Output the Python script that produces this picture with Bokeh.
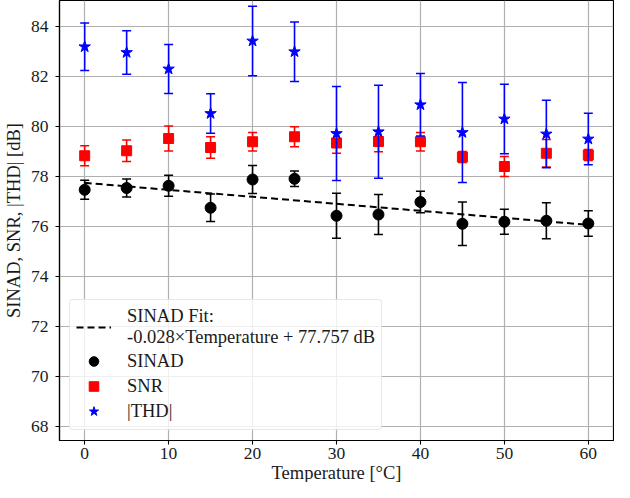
import numpy as np
from bokeh.plotting import figure
from bokeh.models import (ColumnDataSource, Legend, LegendItem, FixedTicker, Range1d, Title)
from bokeh.embed import file_html
from bokeh.resources import INLINE

# ---- data ----
temps = [0, 5, 10, 15, 20, 25, 30, 35, 40, 45, 50, 55, 60]
sinad = [77.48, 77.55, 77.64, 76.76, 77.89, 77.92, 76.44, 76.49, 76.99, 76.12, 76.20, 76.24, 76.13]
sinad_err = [0.38, 0.36, 0.42, 0.55, 0.56, 0.31, 0.90, 0.80, 0.43, 0.87, 0.50, 0.72, 0.51]
snr = [78.84, 79.04, 79.53, 79.17, 79.40, 79.60, 79.35, 79.41, 79.40, 78.79, 78.41, 78.94, 78.87]
snr_err = [0.40, 0.43, 0.50, 0.43, 0.37, 0.40, 0.41, 0.41, 0.37, 0.22, 0.40, 0.55, 0.22]
thd = [83.20, 82.97, 82.31, 80.53, 83.43, 83.00, 79.73, 79.80, 80.88, 79.77, 80.31, 79.71, 79.51]
thd_err = [0.95, 0.87, 0.98, 0.79, 1.39, 1.19, 1.88, 1.86, 1.25, 2.00, 1.39, 1.35, 1.03]
fit_slope = -0.028
fit_intercept = 77.757
x_ticks = [0, 10, 20, 30, 40, 50, 60]
y_ticks = [68, 70, 72, 74, 76, 78, 80, 82, 84]
x_label = "Temperature [°C]"
y_label = "SINAD, SNR, |THD| [dB]"

FONT = "Liberation Serif"
TICK_SIZE = "17.5px"
LABEL_SIZE = "18.5px"
TXT = "#1a1a1a"

p = figure(width=614, height=482, output_backend="svg", toolbar_location=None,
           x_range=Range1d(-3, 63), y_range=Range1d(67.45, 85.05),
           min_border_left=10, min_border_right=1, min_border_top=0, min_border_bottom=0)

p.outline_line_color = "black"
p.outline_line_width = 1.2
p.background_fill_color = "white"
p.border_fill_color = "white"

for ax in (p.xaxis, p.yaxis):
    ax.axis_line_color = "black"
    ax.axis_line_width = 1.2
    ax.major_tick_line_color = "black"
    ax.major_tick_line_width = 1.1
    ax.major_tick_out = 4
    ax.major_tick_in = 0
    ax.minor_tick_line_color = None
    ax.major_label_text_font = FONT
    ax.major_label_text_font_size = TICK_SIZE
    ax.major_label_text_color = TXT
    ax.axis_label_text_font = FONT
    ax.axis_label_text_font_size = LABEL_SIZE
    ax.axis_label_text_font_style = "normal"
    ax.axis_label_text_color = TXT

p.xaxis.ticker = FixedTicker(ticks=x_ticks)
p.yaxis.ticker = FixedTicker(ticks=y_ticks)
p.yaxis.axis_label = y_label
p.xaxis.major_label_standoff = 3
p.yaxis.major_label_standoff = 7
p.yaxis.axis_label_standoff = 4

xt = Title(text=x_label, align="center", text_font=FONT, text_font_size=LABEL_SIZE,
           text_font_style="normal", text_color=TXT, standoff=-1)
p.add_layout(xt, "below")

p.xgrid.ticker = FixedTicker(ticks=x_ticks)
p.ygrid.ticker = FixedTicker(ticks=y_ticks)
for g in (p.xgrid, p.ygrid):
    g.grid_line_color = "#b0b0b0"
    g.grid_line_width = 1.2

t = np.array(temps, dtype=float)

# fit line
fit_src = ColumnDataSource(dict(x=[min(temps), max(temps)],
                                y=[fit_slope * min(temps) + fit_intercept,
                                   fit_slope * max(temps) + fit_intercept]))
fit_r = p.line("x", "y", source=fit_src, line_color="black", line_width=2, line_dash="7 4")

def series(vals, errs, color, marker, size):
    v = np.array(vals)
    e = np.array(errs)
    src = ColumnDataSource(dict(x=t, y=v, lo=v - e, hi=v + e))
    p.segment(x0="x", y0="lo", x1="x", y1="hi", source=src, line_color=color, line_width=1.6)
    p.scatter(x="x", y="lo", source=src, marker="dash", size=9, line_color=color, line_width=1.6)
    p.scatter(x="x", y="hi", source=src, marker="dash", size=9, line_color=color, line_width=1.6)
    m = p.scatter(x="x", y="y", source=src, marker=marker, size=size,
                  fill_color=color, line_color=color)
    return [m]

r_sinad = series(sinad, sinad_err, "black", "circle", 11)
r_snr = series(snr, snr_err, "red", "square", 10)
r_thd = series(thd, thd_err, "blue", "star", 12)

legend = Legend(items=[
    LegendItem(label="SINAD Fit:\n-0.028×Temperature + 77.757 dB", renderers=[fit_r]),
    LegendItem(label="SINAD", renderers=r_sinad),
    LegendItem(label="SNR", renderers=r_snr),
    LegendItem(label="|THD|", renderers=r_thd),
], location="bottom_left")
legend.label_text_font = FONT
legend.label_text_font_size = LABEL_SIZE
legend.label_text_color = TXT
legend.glyph_width = 35
legend.glyph_height = 24
legend.label_standoff = 16
legend.label_height = 22
legend.spacing = 1
legend.padding = 6
legend.margin = 10
legend.background_fill_alpha = 0.8
legend.border_line_color = "#d0d0d0"
legend.border_line_width = 1.2
legend.border_radius = 4
p.add_layout(legend)

open("out.html", "w").write(file_html(p, INLINE))
